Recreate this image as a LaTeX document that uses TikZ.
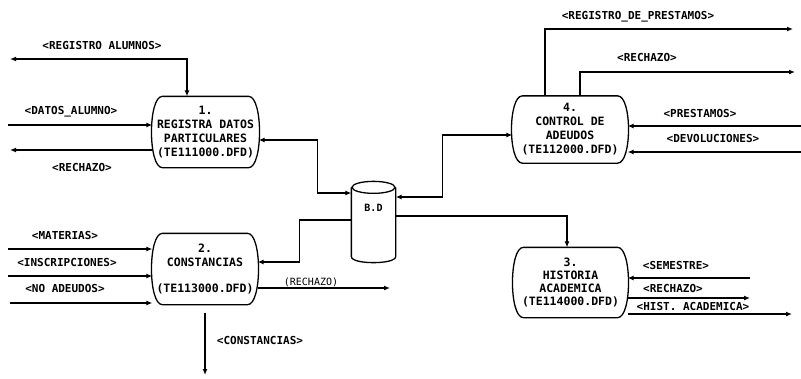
\documentclass[tikz,border=0pt]{standalone}
\usepackage{fontspec}
\newfontfamily\plt{DejaVu Sans Mono}
\usetikzlibrary{arrows.meta}
\newcommand\procoutline[1]{%
  \draw ([xshift=10pt]#1.north west) -- ([xshift=-10pt]#1.north east)
    .. controls ([xshift=4.5pt]#1.north east) and ([xshift=4.5pt]#1.south east) .. ([xshift=-10pt]#1.south east)
    -- ([xshift=10pt]#1.south west)
    .. controls ([xshift=-4.5pt]#1.south west) and ([xshift=-4.5pt]#1.north west) .. cycle;}
\begin{document}
\begin{tikzpicture}[x=1pt,y=-1pt,
  line width=1.3pt,
  sgl/.style={-{Latex[length=6pt,width=5pt]}},
  dbl/.style={{Latex[length=6pt,width=5pt]}-{Latex[length=6pt,width=5pt]}},
  proc/.style={inner sep=0pt, align=center,
    font=\plt\bfseries\fontsize{11.5}{14}\selectfont},
  lbl/.style={inner sep=0pt, font=\plt\bfseries\fontsize{11}{13}\selectfont},
  slbl/.style={inner sep=0pt, font=\plt\fontsize{10}{12}\selectfont},
]
\fill[white] (0,0) rectangle (801,378);
\useasboundingbox (0,0) rectangle (801,378);

% processes
\node[proc, minimum width=105pt, minimum height=70pt] (p1) at (205.5,132)
  {1.\\REGISTRA DATOS\\PARTICULARES\\(TE111000.DFD)};
\node[proc, minimum width=104pt, minimum height=70pt] (p2) at (205,269)
  {2.\\CONSTANCIAS\\[12pt](TE113000.DFD)};
\node[proc, minimum width=113pt, minimum height=69pt,
  font=\plt\bfseries\fontsize{11.5}{12.7}\selectfont] (p3) at (570.5,282.5)
  {3.\\HISTORIA\\ACADEMICA\\(TE114000.DFD)};
\node[proc, minimum width=114pt, minimum height=66pt] (p4) at (570,129.5)
  {4.\\CONTROL DE\\ADEUDOS\\(TE112000.DFD)};
\procoutline{p1}
\procoutline{p2}
\procoutline{p3}
\procoutline{p4}

% data store
\node[minimum width=43pt, minimum height=80pt, inner sep=0pt] (bd) at (373.5,222) {};
\draw ([yshift=-6pt]bd.north) ellipse [x radius=21.5pt, y radius=6pt];
\draw ([yshift=-6pt]bd.north west) -- ([yshift=6pt]bd.south west)
  .. controls ([yshift=-2pt]bd.south west) and ([yshift=-2pt]bd.south east) ..
  ([yshift=6pt]bd.south east) -- ([yshift=-6pt]bd.north east);
\node[inner sep=0pt, font=\plt\bfseries\fontsize{10}{12}\selectfont] (bdt) at (373.5,208) {B.D};

% free ends
\coordinate (regal) at (10,59);
\coordinate (datos) at (8,125);
\coordinate (rech1) at (10,150);
\coordinate (mat) at (8,249);
\coordinate (insc) at (8,276);
\coordinate (noad) at (10,303);
\coordinate (const) at (205,375);
\coordinate (rech2) at (390,288);
\coordinate (rdp) at (793,29);
\coordinate (rch4) at (795,72);
\coordinate (prest) at (801,126);
\coordinate (devol) at (801,152);
\coordinate (sem) at (750,278);
\coordinate (rch3) at (750,298);
\coordinate (hist) at (792,314);

% connectors
\draw[dbl] (regal) -| ([xshift=-18.5pt]p1.north);
\draw[sgl] (datos) -- (datos -| p1.west);
\draw[sgl] (rech1 -| p1.west) -- (rech1);
\draw[dbl] ([yshift=-8pt]p1.east) -| ([xshift=-34pt,yshift=29pt]bd.west) -- ([yshift=29pt]bd.west);

\draw[sgl] (mat) -- (mat -| p2.west);
\draw[sgl] (insc) -- (insc -| p2.west);
\draw[sgl] (noad) -- (noad -| p2.west);
\draw[sgl] ([yshift=2pt]bd.west) -| ([xshift=42pt,yshift=7pt]p2.east) -- ([yshift=7pt]p2.east);
\draw[sgl] (rech2 -| p2.east) -- (rech2);
\draw[sgl] ([yshift=-8pt]p2.south) -- (const);

\draw[dbl] ([yshift=25pt]bd.east) -| ([xshift=-70pt,yshift=-5.5pt]p4.west) -- ([yshift=-5.5pt]p4.west);
\draw[sgl] ([yshift=6pt]bd.east) -| ([xshift=-3.5pt]p3.north);

\draw[sgl] ([xshift=-25pt]p4.north) |- (rdp);
\draw[sgl] ([xshift=10pt]p4.north) |- (rch4);
\draw[sgl] (prest) -- (prest -| p4.east);
\draw[sgl] (devol) -- (devol -| p4.east);

\draw[sgl] (sem) -- (sem -| p3.east);
\draw[sgl] (rch3 -| p3.east) -- (rch3);
\draw[sgl] (hist -| p3.east) -- (hist);

% labels
\node[lbl] (t1) at (102,45) {<REGISTRO ALUMNOS>};
\node[lbl] (t2) at (71,112) {<DATOS\_ALUMNO>};
\node[lbl] (t3) at (82,167) {<RECHAZO>};
\node[lbl] (t4) at (65,235) {<MATERIAS>};
\node[lbl] (t5) at (67,262) {<INSCRIPCIONES>};
\node[lbl] (t6) at (65,288) {<NO ADEUDOS>};
\node[lbl] (t7) at (260,340) {<CONSTANCIAS>};
\node[slbl] (t8) at (311,282) {(RECHAZO)};
\node[lbl] (t9) at (638,17) {<REGISTRO\_DE\_PRESTAMOS>};
\node[lbl] (t10) at (647,57) {<RECHAZO>};
\node[lbl] (t11) at (700,113) {<PRESTAMOS>};
\node[lbl] (t12) at (713,138) {<DEVOLUCIONES>};
\node[lbl] (t13) at (676,265) {<SEMESTRE>};
\node[lbl] (t14) at (673,288) {<RECHAZO>};
\node[lbl] (t15) at (693,306) {<HIST. ACADEMICA>};
\end{tikzpicture}
\end{document}
